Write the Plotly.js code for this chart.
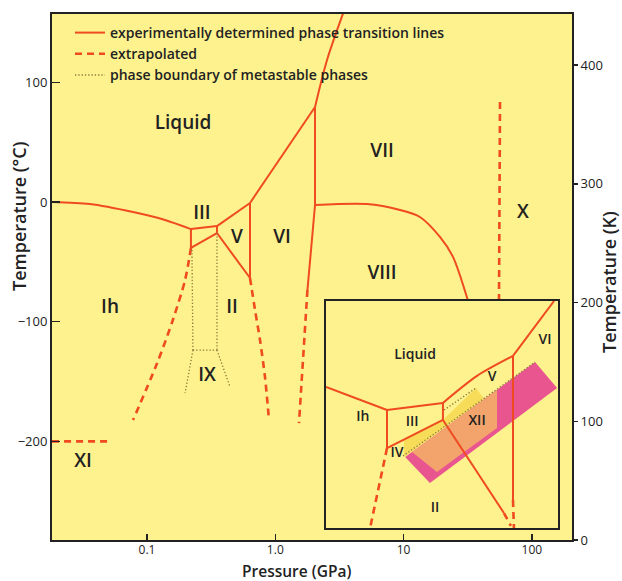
<!DOCTYPE html>
<html>
<head>
<meta charset="utf-8">
<script src="https://cdn.plot.ly/plotly-3.0.1.min.js"></script>
<style>html,body{margin:0;padding:0;background:#fff;}#chart{width:622px;height:581px;}</style>
</head>
<body>
<div id="chart"></div>
<script>
// ---------- main diagram data (pressure GPa, temperature °C) ----------
const meltIhP = [0.0182, 0.0359, 0.0778, 0.138, 0.220];
const meltIhT = [0, -1.7, -8.4, -15.0, -22.6];
const meltIIIP = [0.220, 0.351];
const meltIIIT = [-22.6, -20.1];
const meltVP = [0.351, 0.635];
const meltVT = [-20.1, -0.8];
const meltVIP = [0.635, 2.04];
const meltVIT = [-0.8, 79.4];
const meltVIIP = [2.04, 2.53, 3.49];
const meltVIIT = [79.4, 118.7, 162];
const ihIIIP = [0.220, 0.220];
const ihIIIT = [-22.6, -38.4];
const iiiIIP = [0.220, 0.351];
const iiiIIT = [-38.4, -25.9];
const iiiVP = [0.351, 0.351];
const iiiVT = [-20.1, -25.9];
const vIIP = [0.351, 0.635];
const vIIT = [-25.9, -63.5];
const vVIP = [0.635, 0.635];
const vVIT = [-0.8, -63.5];
const viVIIP = [2.04, 2.04];
const viVIIT = [79.4, -2.5];
const viVIIIP = [2.04, 1.78];
const viVIIIT = [-2.5, -73.5];
const viiVIIIP = [2.04, 5.18, 9.37, 13.4, 19.2, 24.3, 31.8];
const viiVIIIT = [-2.5, -1.7, -6.7, -12.5, -29.2, -46.0, -82.7];
// extrapolated
const ihIIP = [0.220, 0.198, 0.159, 0.120, 0.0778];
const ihIIT = [-38.4, -65.2, -98.6, -134.5, -182.2];
const iiVIP = [0.635, 0.695, 0.760, 0.831, 0.893];
const iiVIT = [-63.5, -90.2, -115.3, -146.2, -182.2];
const viVIIIxP = [1.78, 1.53];
const viVIIIxT = [-73.5, -184.7];
const viiXP = [56.4, 55.4];
const viiXT = [83.6, -82.7];
const ihXIP = [0.0182, 0.0515];
const ihXIT = [-200, -200];
// metastable (ice IX)
const ixLeftP = [0.224, 0.228], ixLeftT = [-40.1, -123.7];
const ixRightP = [0.351, 0.351], ixRightT = [-25.9, -123.7];
const ixTopP = [0.228, 0.351], ixTopT = [-123.7, -123.7];
const ixDiagLP = [0.228, 0.198], ixDiagLT = [-123.7, -159.6];
const ixDiagRP = [0.351, 0.444], ixDiagRT = [-123.7, -154.6];
// region labels
const labelText = ['Liquid', 'III', 'V', 'VI', 'VII', 'VIII', 'X', 'Ih', 'II', 'IX', 'XI'];
const labelP = [0.191, 0.268, 0.503, 1.128, 6.79, 6.79, 85.2, 0.0515, 0.460, 0.294, 0.0317];
const labelT = [65.2, -10.0, -30.1, -30.1, 41.8, -60.2, -9.2, -88.6, -88.6, -145.4, -217.3];

// ---------- inset data (schematic units 0-100) ----------
const inIhLu = [0, 26.3], inIhLv = [62.1, 52.0];
const inIIILu = [26.3, 50.4], inIIILv = [52.0, 55.1];
const inVLu = [50.4, 65.1, 80.6], inVLv = [55.1, 67.0, 75.8];
const inVILu = [80.6, 98.3], inVILv = [75.8, 100];
const inVVIu = [80.6, 80.6], inVVIv = [75.8, 12.3];
const inIhIIIu = [26.3, 26.3], inIhIIIv = [52.0, 35.2];
const inIIIlowu = [26.3, 50.4], inIIIlowv = [35.2, 47.6];
const inIIIVu = [50.4, 50.4], inIIIVv = [55.1, 47.6];
const inIIu = [50.4, 76.7], inIIv = [47.6, 6.6];
const inVVIxu = [80.6, 81.0], inVVIxv = [12.3, 0];
const inIIxu = [76.7, 79.7], inIIxv = [6.6, 0.9];
const inIhIIu = [26.3, 19.0], inIhIIv = [35.2, 0];
const inDotLowu = [33.2, 90.1], inDotLowv = [31.7, 73.1];
const inDotUpu = [50.9, 64.7], inDotUpv = [52.0, 61.7];
const pinku = [34.1, 90.1, 99.6, 44.8], pinkv = [31.3, 73.1, 61.7, 19.8];
const orangeu = [37.1, 73.7, 73.7, 47.8], orangev = [33.5, 60.8, 44.1, 24.7];
const stripu = [33.6, 33.6, 50.4, 64.7, 68.1], stripv = [31.3, 39.0, 47.6, 61.7, 56.8];
const inLabelText = ['Liquid', 'Ih', 'III', 'XII', 'V', 'VI', 'IV', 'II'];
const inLabelu = [38.4, 15.9, 37.1, 65.1, 71.6, 94.4, 30.6, 47.0];
const inLabelv = [76.2, 48.5, 46.3, 46.7, 66.1, 82.8, 33.0, 8.8];

// ---------- tick labels ----------
const xTickVals = [0.1, 1, 10, 100];
const xTickText = ['0.1', '1.0', '10', '100'];
const yTickVals = [-200, -100, 0, 100];
const yTickText = ['\u2212200', '\u2212100', '0', '100'];
const kTickVals = [0, 100, 200, 300, 400];

const RED = '#ef4a20';
const DOT = '#8a7a3c';
const FONT = 'Open Sans, Lato, sans-serif';
const TXT = '#222';

const traces = [];
function solid(x, y, name, show, ax, smooth) {
  traces.push({x: x, y: y, type: 'scatter', mode: 'lines', name: name,
    legendgroup: 'solid', showlegend: !!show, hoverinfo: 'skip',
    xaxis: ax ? 'x2' : 'x', yaxis: ax ? 'y2' : 'y',
    line: {color: RED, width: 2, shape: smooth ? 'spline' : 'linear', smoothing: 0.8}});
}
function dashed(x, y, name, show, ax, smooth) {
  traces.push({x: x, y: y, type: 'scatter', mode: 'lines', name: name,
    legendgroup: 'dash', showlegend: !!show, hoverinfo: 'skip',
    xaxis: ax ? 'x2' : 'x', yaxis: ax ? 'y2' : 'y',
    line: {color: RED, width: 2.6, dash: '7px,5px', shape: smooth ? 'spline' : 'linear', smoothing: 0.8}});
}
function dotted(x, y, name, show, ax) {
  traces.push({x: x, y: y, type: 'scatter', mode: 'lines', name: name,
    legendgroup: 'dot', showlegend: !!show, hoverinfo: 'skip',
    xaxis: ax ? 'x2' : 'x', yaxis: ax ? 'y2' : 'y',
    line: {color: DOT, width: 1.3, dash: '1.3px,2px'}});
}
const SOLIDNAME = 'experimentally determined phase transition lines';
const DASHNAME = 'extrapolated';
const DOTNAME = 'phase boundary of metastable phases';

solid(meltIhP, meltIhT, SOLIDNAME, true, false, true);
[[meltIIIP, meltIIIT], [meltVP, meltVT], [meltVIP, meltVIT], [meltVIIP, meltVIIT, true],
 [ihIIIP, ihIIIT], [iiiIIP, iiiIIT], [iiiVP, iiiVT], [vIIP, vIIT], [vVIP, vVIT],
 [viVIIP, viVIIT], [viVIIIP, viVIIIT], [viiVIIIP, viiVIIIT, true]].forEach(s => solid(s[0], s[1], SOLIDNAME, false, false, s[2]));
dashed(ihIIP, ihIIT, DASHNAME, true, false, true);
[[iiVIP, iiVIT, true], [viVIIIxP, viVIIIxT], [viiXP, viiXT], [ihXIP, ihXIT]].forEach(s => dashed(s[0], s[1], DASHNAME, false, false, s[2]));
dotted(ixLeftP, ixLeftT, DOTNAME, true);
[[ixRightP, ixRightT], [ixTopP, ixTopT], [ixDiagLP, ixDiagLT], [ixDiagRP, ixDiagRT]].forEach(s => dotted(s[0], s[1], DOTNAME, false));

traces.push({x: labelP, y: labelT, text: labelText, type: 'scatter', mode: 'text',
  textposition: 'middle center', showlegend: false, hoverinfo: 'skip',
  textfont: {family: FONT, size: 19, color: TXT, weight: 600}});

// inset fills
function fillPoly(u, v, color) {
  traces.push({x: u, y: v, type: 'scatter', mode: 'lines', fill: 'toself', fillcolor: color,
    line: {width: 0}, xaxis: 'x2', yaxis: 'y2', showlegend: false, hoverinfo: 'skip'});
}
fillPoly(pinku, pinkv, '#e9558e');
fillPoly(orangeu, orangev, '#f2a46c');
fillPoly(stripu, stripv, '#f6dc58');
[[inIhLu, inIhLv], [inIIILu, inIIILv], [inVLu, inVLv, true], [inVILu, inVILv], [inVVIu, inVVIv],
 [inIhIIIu, inIhIIIv], [inIIIlowu, inIIIlowv], [inIIIVu, inIIIVv], [inIIu, inIIv]].forEach(s => solid(s[0], s[1], SOLIDNAME, false, true, s[2]));
[[inVVIxu, inVVIxv], [inIIxu, inIIxv], [inIhIIu, inIhIIv]].forEach(s => dashed(s[0], s[1], DASHNAME, false, true));
[[inDotLowu, inDotLowv], [inDotUpu, inDotUpv]].forEach(s => dotted(s[0], s[1], DOTNAME, false, true));
traces.push({x: inLabelu, y: inLabelv, text: inLabelText, type: 'scatter', mode: 'text',
  xaxis: 'x2', yaxis: 'y2', textposition: 'middle center', showlegend: false, hoverinfo: 'skip',
  textfont: {family: FONT, size: 14, color: TXT, weight: 600}});

// dummy trace to activate the kelvin axis
traces.push({x: [1], y: [200], type: 'scatter', mode: 'markers', yaxis: 'y3',
  marker: {opacity: 0}, showlegend: false, hoverinfo: 'skip'});

const W = 622, H = 581, ML = 52, MR = 50, MT = 14, MB = 41;
const pw = W - ML - MR, ph = H - MT - MB;
function px2paperX(p) { return (p - ML) / pw; }
function px2paperY(p) { return (H - MB - p) / ph; }

const layout = {
  width: W, height: H,
  margin: {l: ML, r: MR, t: MT, b: MB, pad: 0},
  paper_bgcolor: '#ffffff',
  plot_bgcolor: '#fdf28e',
  font: {family: FONT, color: TXT, size: 13},
  showlegend: true,
  legend: {x: px2paperX(70), y: px2paperY(17), xanchor: 'left', yanchor: 'top',
    bgcolor: 'rgba(0,0,0,0)', borderwidth: 0, traceorder: 'normal',
    font: {family: FONT, size: 14, color: TXT, weight: 600}},
  xaxis: {type: 'log', range: [-1.7405, 2.3125], tickvals: xTickVals, ticktext: xTickText,
    ticks: 'inside', ticklen: 6, tickwidth: 1.5, tickcolor: TXT, ticklabelstandoff: -2,
    showgrid: false, zeroline: false, showline: true, mirror: true, linewidth: 2, linecolor: TXT,
    tickfont: {size: 12}, fixedrange: true},
  yaxis: {range: [-282.4, 157.1], tickvals: yTickVals, ticktext: yTickText,
    ticks: 'inside', ticklen: 8, tickwidth: 1.5, tickcolor: TXT,
    showgrid: false, zeroline: false, showline: true, mirror: true, linewidth: 2, linecolor: TXT,
    tickfont: {size: 13}, fixedrange: true},
  yaxis3: {overlaying: 'y', side: 'right', anchor: 'x', range: [0, 443], tickvals: kTickVals,
    ticks: 'outside', ticklen: 5, tickwidth: 1.5, tickcolor: TXT, showgrid: false, zeroline: false,
    showline: false, tickfont: {size: 13}, fixedrange: true},
  xaxis2: {domain: [px2paperX(326), px2paperX(558)], anchor: 'y2', range: [0, 100],
    showticklabels: false, ticks: '', showgrid: false, zeroline: false,
    showline: true, mirror: true, linewidth: 2, linecolor: TXT, fixedrange: true},
  yaxis2: {domain: [px2paperY(528), px2paperY(301)], anchor: 'x2', range: [0, 100],
    showticklabels: false, ticks: '', showgrid: false, zeroline: false,
    showline: true, mirror: true, linewidth: 2, linecolor: TXT, fixedrange: true},
  annotations: [
    {text: 'Pressure (GPa)', xref: 'paper', yref: 'paper', x: px2paperX(296), y: px2paperY(571),
      xanchor: 'center', yanchor: 'middle', showarrow: false, borderpad: 0,
      font: {size: 15.5, color: TXT, weight: 600}},
    {text: 'Temperature (\u00B0C)', xref: 'paper', yref: 'paper', x: px2paperX(19), y: px2paperY(217),
      xanchor: 'center', yanchor: 'middle', textangle: -90, showarrow: false, font: {size: 18, color: TXT, weight: 600}},
    {text: 'Temperature (K)', xref: 'paper', yref: 'paper', x: px2paperX(609), y: px2paperY(282),
      xanchor: 'center', yanchor: 'middle', textangle: -90, showarrow: false, font: {size: 18, color: TXT, weight: 600}}
  ]
};

Plotly.newPlot('chart', traces, layout, {displayModeBar: false, staticPlot: true});
</script>
</body>
</html>
